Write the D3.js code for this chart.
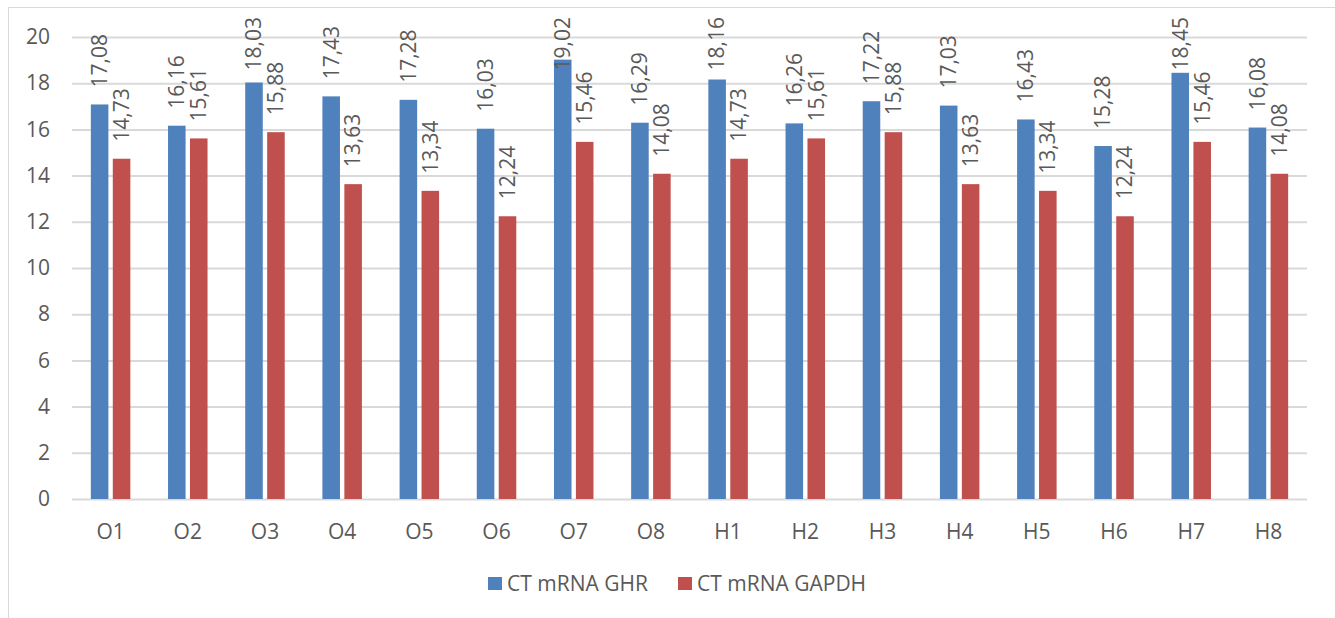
<!DOCTYPE html>
<html>
<head>
<meta charset="utf-8">
<script src="https://cdn.jsdelivr.net/npm/d3@7"></script>
<style>
  html, body { margin: 0; padding: 0; background: #fff; }
  svg { display: block; }
  text { font-family: "Open Sans", "Noto Sans", "Liberation Sans", sans-serif; fill: #595959; }
</style>
</head>
<body>
<svg id="chart" width="1335" height="618"></svg>
<script>
const categories = ["O1","O2","O3","O4","O5","O6","O7","O8","H1","H2","H3","H4","H5","H6","H7","H8"];
const seriesNames = ["CT mRNA GHR", "CT mRNA GAPDH"];
const ghrValues = [17.08,16.16,18.03,17.43,17.28,16.03,19.02,16.29,18.16,16.26,17.22,17.03,16.43,15.28,18.45,16.08];
const gapdhValues = [14.73,15.61,15.88,13.63,13.34,12.24,15.46,14.08,14.73,15.61,15.88,13.63,13.34,12.24,15.46,14.08];
const yTicks = [0,2,4,6,8,10,12,14,16,18,20];
const colors = ["#4f81bd", "#c0504d"];

const svg = d3.select("#chart");
const W = 1335, H = 618;
const FS = 21;

// outer chart border
svg.append("rect").attr("x", 8.5).attr("y", 7.5).attr("width", W + 10).attr("height", H + 10)
  .attr("fill", "none").attr("stroke", "#d9d9d9").attr("stroke-width", 1);

const plot = { left: 72, right: 1307, top: 37, bottom: 499 };

const x0 = d3.scaleBand().domain(categories).range([plot.left, plot.right]).paddingInner(0).paddingOuter(0);
const groupWidth = 39.5;
const x1 = d3.scaleBand().domain(seriesNames).range([0, groupWidth]).paddingInner(0.2).paddingOuter(0);
const y = d3.scaleLinear().domain([0, 20]).range([plot.bottom, plot.top]);

// gridlines + y labels
const yAxis = d3.axisLeft(y).tickValues(yTicks).tickSize(-(plot.right - plot.left)).tickFormat(d3.format("d")).tickPadding(22);
const gy = svg.append("g").attr("transform", `translate(${plot.left},0)`).call(yAxis);
gy.select(".domain").remove();
gy.selectAll(".tick line").attr("stroke", "#d9d9d9").attr("stroke-width", 2);
gy.selectAll(".tick text").attr("font-size", FS).attr("font-family", null).style("fill", "#595959");

// x axis labels
const xAxis = d3.axisBottom(x0).tickSize(0).tickPadding(25);
const gx = svg.append("g").attr("transform", `translate(0,${plot.bottom})`).call(xAxis);
gx.select(".domain").remove();
gx.selectAll(".tick text").attr("font-size", FS).attr("font-family", null).style("fill", "#595959");

const data = categories.map((c, i) => ({ cat: c, vals: [ghrValues[i], gapdhValues[i]] }));
const fmt = v => d3.format(".2f")(v).replace(".", ",");

const groups = svg.append("g").selectAll("g").data(data).join("g")
  .attr("transform", d => `translate(${x0(d.cat) + (x0.bandwidth() - groupWidth) / 2},0)`);

groups.selectAll("rect").data(d => d.vals.map((v, k) => ({ s: seriesNames[k], v, k })))
  .join("rect")
  .attr("x", d => x1(d.s))
  .attr("width", x1.bandwidth())
  .attr("y", d => y(d.v))
  .attr("height", d => y(0) - y(d.v))
  .attr("fill", d => colors[d.k]);

const labels = groups.selectAll("text.lbl").data(d => d.vals.map((v, k) => ({ s: seriesNames[k], v, k })))
  .join("text")
  .attr("class", "lbl")
  .attr("text-anchor", "start")
  .attr("dy", "0.35em")
  .attr("font-size", FS)
  .text(d => fmt(d.v));
labels.each(function(d) {
  const len = this.getComputedTextLength();
  const base = Math.max(y(d.v) - 17, 17 + len);
  d3.select(this).attr("transform", `translate(${x1(d.s) + x1.bandwidth() / 2},${base}) rotate(-90)`);
});

// legend
const legend = svg.append("g");
const legendItems = [
  { name: seriesNames[0], color: colors[0], x: 488 },
  { name: seriesNames[1], color: colors[1], x: 678 }
];
legendItems.forEach(it => {
  legend.append("rect").attr("x", it.x).attr("y", 577).attr("width", 14).attr("height", 13).attr("fill", it.color);
  legend.append("text").attr("x", it.x + 19).attr("y", 583.5).attr("dy", "0.35em")
    .attr("font-size", FS).text(it.name);
});
</script>
</body>
</html>
